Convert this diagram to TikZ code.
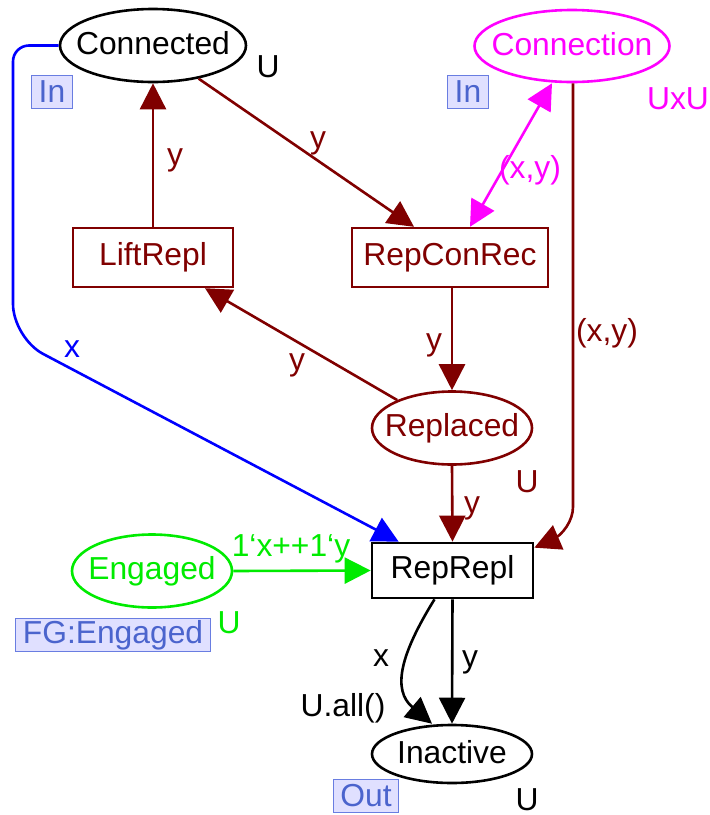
\documentclass[tikz,border=0pt]{standalone}
\usepackage{fontspec}
\setmainfont{Liberation Sans}
\usetikzlibrary{shapes.geometric,arrows.meta}
\definecolor{cpnbrown}{RGB}{128,0,0}
\definecolor{cpnmagenta}{RGB}{255,0,255}
\definecolor{cpngreen}{RGB}{0,235,0}
\definecolor{cpnblue}{RGB}{0,0,255}
\definecolor{tagfill}{RGB}{224,224,255}
\definecolor{tagline}{RGB}{105,125,225}
\definecolor{tagtext}{RGB}{75,100,205}
% zero-width, slightly raised text so the ellipse keeps its given size
\newcommand{\zw}[1]{\makebox[0pt]{\raisebox{2.5pt}{#1}}}
\begin{document}
\begin{tikzpicture}[x=0.5pt, y=-0.5pt,
  every node/.style={font=\fontsize{15.9}{18}\selectfont, inner sep=0pt},
  place/.style={ellipse, draw, line width=1.3pt},
  trans/.style={rectangle, draw, line width=1.2pt},
  tag/.style={rectangle, draw=tagline, line width=0.5pt, fill=tagfill, text=tagtext,
    inner xsep=3.5pt, minimum height=16.5pt},
  arc/.style={line width=1.3pt, -{Triangle[length=13pt,width=13pt]}},
  lbl/.style={anchor=center}]
\useasboundingbox (0,0) rectangle (709,815);

% places
\node[place, minimum width=93pt, minimum height=36.5pt] (Connected) at (153,45.5) {\zw{Connected}};
\node[place, draw=cpnmagenta, text=cpnmagenta, minimum width=97.5pt, minimum height=36pt] (Connection) at (572,46) {\zw{Connection}};
\node[place, draw=cpnbrown, text=cpnbrown, minimum width=80pt, minimum height=36.5pt] (Replaced) at (452,428) {\zw{Replaced}};
\node[place, draw=cpngreen, text=cpngreen, minimum width=80pt, minimum height=36.5pt] (Engaged) at (152,571) {\zw{Engaged}};
\node[place, minimum width=80pt, minimum height=29pt] (Inactive) at (452,754) {\zw{Inactive}};

% transitions
\node[trans, draw=cpnbrown, text=cpnbrown, minimum width=80pt, minimum height=29.5pt] (LiftRepl) at (153,257.5) {LiftRepl};
\node[trans, draw=cpnbrown, text=cpnbrown, minimum width=98pt, minimum height=29.5pt] (RepConRec) at (450,257.5) {RepConRec};
\node[trans, line width=1.35pt, minimum width=80.5pt, minimum height=27.5pt] (RepRepl) at (452.5,570.5) {RepRepl};

% port and fusion tags, colour sets
\node[tag] (tagConnected) at (52,92) {In};
\node[tag] (tagConnection) at (468,92) {In};
\node[tag] (tagEngaged) at (113,635) {FG:Engaged};
\node[tag] (tagInactive) at (366,796) {Out};
\node[lbl] (csConnected) at (268,67) {U};
\node[lbl, text=cpnmagenta] (csConnection) at (678,99) {UxU};
\node[lbl, text=cpnbrown] (csReplaced) at (527,482) {U};
\node[lbl, text=cpngreen] (csEngaged) at (229,623) {U};
\node[lbl] (csInactive) at (527,800) {U};
\node[lbl] (initInactive) at (343,708) {U.all()};

% arcs
\draw[arc, cpnbrown] (LiftRepl.north) -- (Connected.south);
\draw[arc, cpnbrown] (Connected.-36) -- ([xshift=-18pt]RepConRec.north);
\draw[arc, cpnbrown] (RepConRec.south -| Replaced.north) -- (Replaced.north);
\draw[arc, cpnbrown] (Replaced.153) -- ([xshift=26pt]LiftRepl.south);
\draw[arc, cpnbrown] (Replaced.south) -- (RepRepl.north);
\draw[arc, cpnbrown, rounded corners=12pt] ([xshift=0.5pt]Connection.south) -- (573,531) -- ([yshift=-3pt]RepRepl.north east);
\draw[line width=1.3pt, cpnmagenta, {Triangle[length=13pt,width=13pt]}-{Triangle[length=13pt,width=13pt]}]
  ([xshift=-10pt]Connection.south) -- ([xshift=10pt]RepConRec.north);
\draw[arc, cpnblue, rounded corners=8pt] (Connected.west) -- (13,45.5) [rounded corners=17pt] -- (13,338) -- ([xshift=14pt]RepRepl.north west);
\draw[arc, cpngreen] (Engaged.east) -- (RepRepl.west);
\draw[arc] (RepRepl.south) -- (Inactive.north);
\draw[arc] ([xshift=-9pt]RepRepl.south) .. controls (400,655) and (392,690) .. ([xshift=-10pt]Inactive.north);

% arc inscriptions
\node[lbl, text=cpnbrown] (iA) at (175,160) {y};
\node[lbl, text=cpnbrown] (iB) at (318,143) {y};
\node[lbl, text=cpnmagenta] (iC) at (530,170) {(x,y)};
\node[lbl, text=cpnbrown] (iD) at (434,345) {y};
\node[lbl, text=cpnbrown] (iE) at (297,365) {y};
\node[lbl, text=cpnblue] (iF) at (72,349) {x};
\node[lbl, text=cpnbrown] (iG) at (607,333) {(x,y)};
\node[lbl, text=cpnbrown] (iH) at (472,508) {y};
\node[lbl, text=cpngreen] (iI) at (291,549) {1‘x++1‘y};
\node[lbl] (iJ) at (381,658) {x};
\node[lbl] (iK) at (470,662) {y};
\end{tikzpicture}
\end{document}
